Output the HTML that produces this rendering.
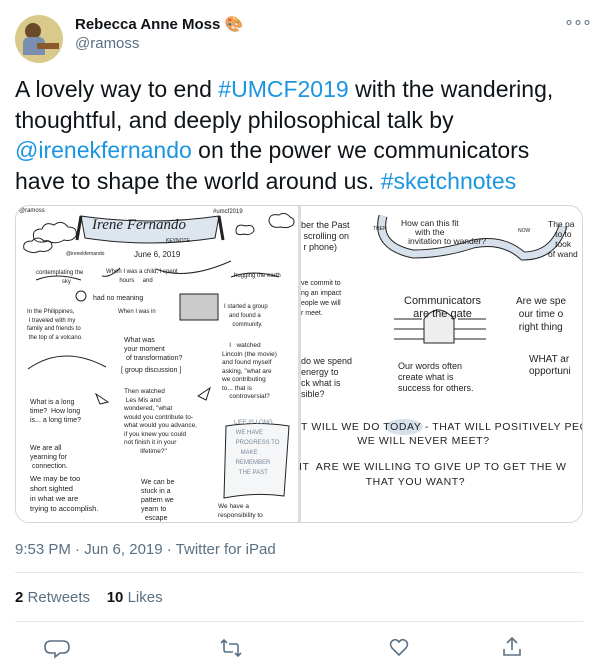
<!DOCTYPE html>
<html><head><meta charset="utf-8"><style>
*{margin:0;padding:0;box-sizing:border-box}
body{width:598px;height:672px;background:#fff;font-family:"Liberation Sans",sans-serif;position:relative;overflow:hidden;color:#0f1419}
.a{position:absolute;white-space:nowrap}
.s{position:absolute;white-space:pre;font-family:"Liberation Sans",sans-serif;color:#222;font-size:7px;line-height:9px}
.blue{color:#1b95e0}
.gray{color:#5b7083}
</style></head><body>
<div class="a" style="left:15px;top:15px;width:48px;height:48px;border-radius:50%;background:#d9c98a;overflow:hidden">
 <div style="position:absolute;left:10px;top:8px;width:16px;height:16px;border-radius:50%;background:#6b4a2a"></div>
 <div style="position:absolute;left:8px;top:22px;width:22px;height:18px;background:#7a8fb0;border-radius:6px 6px 0 0"></div>
 <div style="position:absolute;left:22px;top:28px;width:22px;height:6px;background:#8a5a2b"></div>
</div>
<div class="a" style="left:75px;top:15px;font-size:15px;font-weight:bold">Rebecca Anne Moss 🎨</div>
<div class="a gray" style="left:75px;top:35px;font-size:15px">@ramoss</div>
<div class="a gray" style="left:564px;top:12px;font-size:16px;letter-spacing:-1px">∘∘∘</div>
<div class="a" style="left:15px;top:74px;font-size:23px;line-height:30.5px;white-space:normal;width:570px">A lovely way to end <span class="blue">#UMCF2019</span> with the wandering, thoughtful, and deeply philosophical talk by <span class="blue">@irenekfernando</span> on the power we communicators have to shape the world around us. <span class="blue">#sketchnotes</span></div>
<div class="a" style="left:15px;top:205px;width:568px;height:318px;border:1px solid #cfd9de;border-radius:14px;overflow:hidden;background:#fff">
 <div style="position:absolute;left:282px;top:0;width:3px;height:318px;background:#d8dde2"></div>
 <svg width="568" height="318" style="position:absolute;left:0;top:0" fill="none" stroke="#222" stroke-width="1">
  <path d="M18 33 q-3-10 8-10 q3-8 12-4 q8-6 14 2 q10 0 8 9 q-4 6-12 4 q-8 5-16 1 q-10 3-14-2z"/>
  <path d="M8 43 q-2-8 8-8 q6-6 12 0 q8-2 8 6 q-4 6-12 4 q-8 4-16-2z"/>
  <path d="M253 15 q0-8 10-6 q6-4 11 2 q6 2 3 8 q-6 4-12 2 q-10 2-12-6z"/>
  <path d="M220 25 q0-8 10-5 q8-2 8 5 q-4 5-10 3 q-8 2-8-3z"/>
  <path d="M65 10 q70 10 138 0 l-4 22 q-65 10-130 0z" fill="#dde5ef"/>
  <path d="M65 10 l-4 24 M203 10 l4 24" stroke-width="3"/>
  <path d="M20 74 q20-8 45 0 M215 71 q22-8 48 0"/>
  <path d="M104 62 q-10 10-18 8 M140 63 q30 12 75-8"/>
  <circle cx="65" cy="90" r="5"/>
  <rect x="164" y="88" width="38" height="26" fill="#ccc"/>
  <path d="M12 163 q35-25 78-2"/>
  <path d="M210 220 q30-5 63 0 l-5 70 q-30-4-60 2z" fill="#f4f6f8"/>
  <path d="M80 188 l12 8 l-8 2z M182 190 l12-8 l-4 12z"/>
  <path d="M367 10 q-8 30 30 38 q30 0 60-10 q30-6 50 12 q30 0 40-30" stroke="#222" stroke-width="9"/>
  <path d="M367 10 q-8 30 30 38 q30 0 60-10 q30-6 50 12 q30 0 40-30" stroke="#d6e1ec" stroke-width="7"/>
  <path d="M378 123 h92 M378 133 h92 M378 113 h28 M442 113 h28"/>
  <path d="M408 137 v-24 q14-18 30 0 v24z" fill="#eee"/>
  <ellipse cx="388" cy="221" rx="19" ry="8" fill="#d6e1ec" stroke="none"/>
 </svg>
 <div class="s" style="left:3px;top:1px;font-size:6px">@ramoss</div>
 <div class="s" style="left:197px;top:2px;font-size:6px">#umcf2019</div>
 <div class="s" style="left:76px;top:11px;font-size:15px;line-height:16px;font-family:'Liberation Serif',serif;font-style:italic">Irene Fernando</div>
 <div class="s" style="left:150px;top:31px;font-size:5px">KEYNOTE</div>
 <div class="s" style="left:50px;top:44px;font-size:5px">@irenekfernando</div>
 <div class="s" style="left:118px;top:44px;font-size:8px">June 6, 2019</div>
 <div class="s" style="left:20px;top:63px;font-size:6px;text-align:center">contemplating the
        sky</div>
 <div class="s" style="left:90px;top:62px;font-size:6px">When I was a child, I spent
        hours     and</div>
 <div class="s" style="left:218px;top:66px;font-size:6px">hugging the earth</div>
 <div class="s" style="left:77px;top:88px">had no meaning</div>
 <div class="s" style="left:102px;top:102px;font-size:6px">When I was in</div>
 <div class="s" style="left:208px;top:97px;font-size:6px">I started a group
   and found a
     community.</div>
 <div class="s" style="left:11px;top:102px;font-size:6px;line-height:8.5px">In the Philippines,
 I traveled with my
family and friends to
 the top of a volcano.</div>
 <div class="s" style="left:108px;top:130px">What was
your moment
 of transformation?</div>
 <div class="s" style="left:105px;top:160px">[ group discussion ]</div>
 <div class="s" style="left:206px;top:136px;font-size:6.5px;line-height:8.5px">    I   watched
Lincoln (the movie)
and found myself
asking, "what are
we contributing
to... that is
    controversial?</div>
 <div class="s" style="left:108px;top:182px;font-size:6.5px;line-height:8.5px">Then watched
 Les Mis and
wondered, "what
would you contribute to-
what would you advance,
if you knew you could
not finish it in your
         lifetime?"</div>
 <div class="s" style="left:14px;top:192px">What is a long
time?  How long
is... a long time?</div>
 <div class="s" style="left:14px;top:238px">We are all
yearning for
 connection.</div>
 <div class="s" style="left:218px;top:212px;font-size:6px;color:#7a8a9a;line-height:10px">LIFE IS LONG
 WE HAVE
 PROGRESS TO
    MAKE
 REMEMBER
   THE PAST</div>
 <div class="s" style="left:14px;top:268px;font-size:7.5px;line-height:10px">We may be too
short sighted
in what we are
trying to accomplish.</div>
 <div class="s" style="left:125px;top:272px">We can be
stuck in a
pattern we
yearn to
  escape</div>
 <div class="s" style="left:202px;top:296px;font-size:6.5px">We have a
responsibility to</div>
 <div class="s" style="left:285px;top:14px;font-size:9px;line-height:11px">ber the Past
 scrolling on
 r phone)</div>
 <div class="s" style="left:357px;top:19px;font-size:5px">THEN</div>
 <div class="s" style="left:385px;top:13px;font-size:8.5px;line-height:9px">How can this fit
      with the
   invitation to wander?</div>
 <div class="s" style="left:502px;top:21px;font-size:5px">NOW</div>
 <div class="s" style="left:532px;top:13px;font-size:8.5px;line-height:10px">The pa
   to to
   took
of wand</div>
 <div class="s" style="left:285px;top:73px;line-height:10px">ve commit to
ng an impact
eople we will
r meet.</div>
 <div class="s" style="left:388px;top:89px;font-size:11px;line-height:13px">Communicators
   are the gate</div>
 <div class="s" style="left:500px;top:89px;font-size:10px;line-height:13px">Are we spe
 our time o
 right thing</div>
 <div class="s" style="left:285px;top:150px;font-size:9px;line-height:11px">do we spend
energy to
ck what is
sible?</div>
 <div class="s" style="left:382px;top:155px;font-size:9px;line-height:11px">Our words often
create what is
success for others.</div>
 <div class="s" style="left:513px;top:148px;font-size:10px;line-height:12px">WHAT ar
opportuni</div>
 <div class="s" style="left:285px;top:214px;font-size:10.5px;line-height:14px;letter-spacing:.6px">T WILL WE DO TODAY - THAT WILL POSITIVELY PEOPL
                WE WILL NEVER MEET?</div>
 <div class="s" style="left:283px;top:254px;font-size:10.5px;line-height:15px;letter-spacing:.6px">IT  ARE WE WILLING TO GIVE UP TO GET THE W
                   THAT YOU WANT?</div>
</div>
<div class="a gray" style="left:15px;top:541px;font-size:15px">9:53 PM · Jun 6, 2019 · Twitter for iPad</div>
<div class="a" style="left:15px;top:572px;width:568px;height:1px;background:#e1e8ed"></div>
<div class="a" style="left:15px;top:589px;font-size:15px"><b>2</b> <span class="gray">Retweets</span>&nbsp;&nbsp;&nbsp; <b>10</b> <span class="gray">Likes</span></div>
<div class="a" style="left:15px;top:621px;width:568px;height:1px;background:#e1e8ed"></div>
<svg class="a" style="left:0;top:635px" width="598" height="26" fill="none" stroke="#5b7083" stroke-width="1.6">
 <path d="M51 6 h12 q6 0 6 6 q0 6-6 6 h-3 l-5 4 v-4 h-4 q-6 0-6-6 q0-6 6-6z"/>
 <path d="M221 8 l3-3 l3 3 M224 5 v10 q0 2 2 2 h7 M235 18 l3 3 l3-3 M238 21 v-10 q0-2-2-2 h-7"/>
 <path d="M399 20 l-7-7 q-3-4 0-7 q4-3 7 1 q3-4 7-1 q3 3 0 7z"/>
 <path d="M507 8 l5-5 l5 5 M512 3 v12 M504 14 v6 h16 v-6"/>
</svg>
</body></html>
